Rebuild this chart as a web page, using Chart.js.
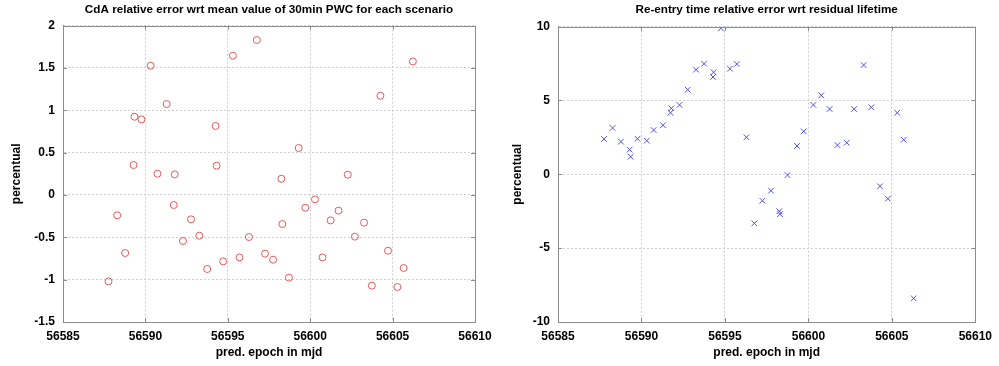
<!DOCTYPE html>
<html>
<head>
<meta charset="utf-8">
<script src="https://cdn.jsdelivr.net/npm/chart.js@4/dist/chart.umd.min.js"></script>
<style>
  html, body { margin: 0; padding: 0; background: #fff; }
  #wrap { position: relative; width: 999px; height: 366px; }
  .box { position: absolute; top: 0; height: 366px; }
  #left { left: 0; width: 499px; }
  #right { left: 499px; width: 500px; }
</style>
</head>
<body>
<div id="wrap">
  <div class="box" id="left"><canvas id="cda"></canvas></div>
  <div class="box" id="right"><canvas id="reentry"></canvas></div>
</div>
<script>
// x values (mjd) and relative errors
var cdaEpoch = [56587.76, 56588.29, 56588.77, 56589.28, 56589.34, 56589.76, 56590.32, 56590.73, 56591.29, 56591.72,
  56591.78, 56592.28, 56592.77, 56593.27, 56593.75, 56594.26, 56594.32, 56594.72, 56595.31, 56595.71,
  56596.28, 56596.76, 56597.26, 56597.75, 56598.25, 56598.31, 56598.71, 56599.30, 56599.70, 56600.29,
  56600.75, 56601.24, 56601.72, 56602.28, 56602.71, 56603.27, 56603.74, 56604.26, 56604.72, 56605.29,
  56605.67, 56606.23];
var cdaErr = [-1.02, -0.24, -0.685, 0.354, 0.924, 0.893, 1.527, 0.251, 1.074, -0.118,
  0.243, -0.543, -0.288, -0.481, -0.874, 0.815, 0.346, -0.784, 1.645, -0.737,
  -0.496, 1.83, -0.693, -0.764, 0.192, -0.343, -0.976, 0.555, -0.15, -0.052,
  -0.737, -0.30, -0.185, 0.24, -0.492, -0.327, -1.071, 1.172, -0.658, -1.086,
  -0.862, 1.577];

var reentryEpoch = [56587.76, 56588.27, 56588.77, 56589.29, 56589.35, 56589.76, 56590.32, 56590.73, 56591.29, 56591.74,
  56591.79, 56592.28, 56592.77, 56593.27, 56593.75, 56594.29, 56594.32, 56594.76, 56595.30, 56595.71,
  56596.29, 56596.76, 56597.24, 56597.76, 56598.26, 56598.30, 56598.75, 56599.32, 56599.72, 56600.30,
  56600.77, 56601.27, 56601.74, 56602.30, 56602.74, 56603.31, 56603.77, 56604.29, 56604.76, 56605.32,
  56605.71, 56606.31];
var reentryErr = [2.39, 3.14, 2.21, 1.67, 1.19, 2.41, 2.28, 3.0, 3.32, 4.17,
  4.47, 4.70, 5.73, 7.09, 7.49, 6.59, 6.91, 9.89, 7.15, 7.47,
  2.51, -3.32, -1.79, -1.11, -2.5, -2.7, -0.05, 1.92, 2.91, 4.70,
  5.35, 4.42, 1.98, 2.14, 4.42, 7.40, 4.54, -0.81, -1.65, 4.17,
  2.34, -8.40];

var xTicks = [56585, 56590, 56595, 56600, 56605, 56610];
var cdaYTicks = [-1.5, -1, -0.5, 0, 0.5, 1, 1.5, 2];
var reentryYTicks = [-10, -5, 0, 5, 10];

var FONT = { family: "'Liberation Sans', Arial, sans-serif", size: 12, weight: 'bold' };
var TITLE_FONT = { family: "'Liberation Sans', Arial, sans-serif", size: 11.7, weight: 'bold' };
var AXIS = '#8c8c8c';
var GRID = '#cfcfcf';

// matlab-ish box with inward tick marks
var framePlugin = {
  id: 'frame',
  afterDraw: function(chart) {
    var a = chart.chartArea, ctx = chart.ctx;
    var xs = chart.scales.x, ys = chart.scales.y;
    ctx.save();
    ctx.strokeStyle = AXIS;
    ctx.lineWidth = 1;
    ctx.setLineDash([]);
    ctx.strokeRect(Math.round(a.left) + 0.5, Math.round(a.top) + 0.5, Math.round(a.right - a.left), Math.round(a.bottom - a.top));
    ctx.beginPath();
    xs.ticks.forEach(function(t){
      var px = Math.round(xs.getPixelForValue(t.value)) + 0.5;
      ctx.moveTo(px, a.bottom); ctx.lineTo(px, a.bottom - 4);
      ctx.moveTo(px, a.top); ctx.lineTo(px, a.top + 4);
    });
    ys.ticks.forEach(function(t){
      var py = Math.round(ys.getPixelForValue(t.value)) + 0.5;
      ctx.moveTo(a.left, py); ctx.lineTo(a.left + 4, py);
      ctx.moveTo(a.right, py); ctx.lineTo(a.right - 4, py);
    });
    ctx.stroke();
    ctx.restore();
  }
};

function toPoints(xs, ys) {
  return xs.map(function(x, i){ return { x: x, y: ys[i] }; });
}

function buildChart(id, opts) {
  var ctx = document.getElementById(id).getContext('2d');
  return new Chart(ctx, {
    type: 'scatter',
    data: {
      datasets: [{
        data: toPoints(opts.xs, opts.ys),
        pointStyle: opts.pointStyle,
        pointRadius: opts.radius,
        pointBorderWidth: 1,
        borderColor: opts.color,
        backgroundColor: 'rgba(0,0,0,0)',
        pointHoverRadius: opts.radius
      }]
    },
    options: {
      responsive: true,
      maintainAspectRatio: false,
      animation: false,
      layout: { padding: { left: 0, right: opts.padRight, top: 0, bottom: 0 } },
      plugins: {
        legend: { display: false },
        tooltip: { enabled: false },
        title: {
          display: true,
          text: opts.title,
          fullSize: false,
          color: '#000',
          font: TITLE_FONT,
          padding: { top: 3, bottom: opts.titleGap }
        }
      },
      scales: {
        x: {
          type: 'linear',
          min: 56585, max: 56610,
          afterBuildTicks: function(s){ s.ticks = xTicks.map(function(v){ return { value: v }; }); },
          afterFit: function(s){ s.height = 44; },
          ticks: { color: '#000', font: FONT, padding: 7, maxRotation: 0, callback: function(v){ return String(v); } },
          grid: { color: GRID, drawTicks: false },
          border: { display: true, color: AXIS, dash: [2, 2] },
          title: { display: true, text: 'pred. epoch in mjd', color: '#000', font: FONT, padding: { top: 0, bottom: 6 } }
        },
        y: {
          type: 'linear',
          min: opts.yMin, max: opts.yMax,
          afterBuildTicks: function(s){ s.ticks = opts.yTicks.map(function(v){ return { value: v }; }); },
          afterFit: function(s){ s.width = opts.yWidth; },
          ticks: { color: '#000', font: FONT, padding: 8, callback: function(v){ return String(v); } },
          grid: { color: GRID, drawTicks: false },
          border: { display: true, color: AXIS, dash: [2, 2] },
          title: { display: true, text: 'percentual', color: '#000', font: FONT, padding: { top: opts.yTitlePad, bottom: 0 } }
        }
      }
    },
    plugins: [framePlugin]
  });
}

buildChart('cda', {
  xs: cdaEpoch, ys: cdaErr,
  pointStyle: 'circle', radius: 3.5, color: '#e8585a',
  title: 'CdA relative error wrt mean value of 30min PWC for each scenario',
  titleGap: 8.6, padRight: 24, yWidth: 63, yTitlePad: 9,
  yMin: -1.5, yMax: 2, yTicks: cdaYTicks
});

buildChart('reentry', {
  xs: reentryEpoch, ys: reentryErr,
  pointStyle: 'crossRot', radius: 4, color: '#5050f0',
  title: 'Re-entry time relative error wrt residual lifetime',
  titleGap: 9.6, padRight: 21, yWidth: 59, yTitlePad: 11,
  yMin: -10, yMax: 10, yTicks: reentryYTicks
});
</script>
</body>
</html>
